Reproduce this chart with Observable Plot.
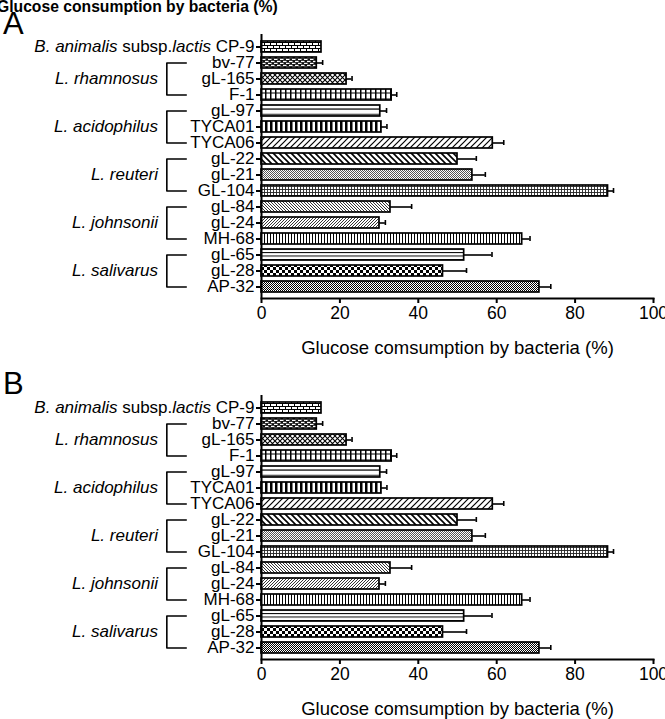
<!DOCTYPE html>
<html><head><meta charset="utf-8">
<script src="https://cdn.jsdelivr.net/npm/d3@7"></script>
<script src="https://cdn.jsdelivr.net/npm/@observablehq/plot@0.6"></script>
<style>
body{margin:0;overflow:hidden;background:#fff;font-family:"Liberation Sans",Arial,sans-serif;color:#000;}
.panel{position:absolute;left:0;width:665px;height:362px;}
.letter{position:absolute;left:3px;font-size:31px;line-height:30px;}
.title{position:absolute;left:-3px;top:-1px;font-size:15.7px;font-weight:bold;white-space:nowrap;line-height:16px;}
</style></head><body>
<svg width="0" height="0" style="position:absolute"><defs id="pats"></defs></svg>
<div class="panel" id="A" style="top:0"></div>
<div class="panel" id="B" style="top:361px"></div>
<div class="title">Glucose consumption by bacteria (%)</div>
<div class="letter" style="top:9px">A</div>
<div class="letter" style="top:369px">B</div>
<script>
// ---- data ----
const strains = ["CP-9","bv-77","gL-165","F-1","gL-97","TYCA01","TYCA06","gL-22","gL-21","GL-104","gL-84","gL-24","MH-68","gL-65","gL-28","AP-32"];
const consumption = [15.3,14.1,21.7,33.2,30.3,30.6,59.0,50.0,53.8,88.4,32.9,30.1,66.5,51.7,46.3,70.9];
const errors = [0,1.5,1.4,1.3,1.6,1.4,2.8,4.8,3.3,1.4,5.4,1.5,2.0,7.1,6.0,2.9];
const groupNames = ["L. rhamnosus","L. acidophilus","L. reuteri","L. johnsonii","L. salivarus"];
const groupFirst = ["bv-77","gL-97","gL-22","gL-84","gL-65"];
const groupMiddle = ["gL-165","TYCA01","gL-21","gL-24","gL-28"];
const groupLast = ["F-1","TYCA06","GL-104","MH-68","AP-32"];
const xTicks = [0,20,40,60,80,100];
const firstPrefix = ["B. animalis", " subsp.", "lactis"];
const xLabel = "Glucose comsumption by bacteria (%)";

// ---- styles (patterns) ----
const patternIds = ["brick","brickDark","diamond","gridWide","hlineWide","vstripe","diagUp","diagDown","stippleLight","gridFine","diagDownFine","diagUpFine","vlineFine","hlineFine","checker","stippleDark"];
const P = (id,w,h,body,bg="#fff") => `<pattern id="${id}" patternUnits="userSpaceOnUse" width="${w}" height="${h}"><rect width="${w}" height="${h}" fill="${bg}"/>${body}</pattern>`;
document.getElementById("pats").innerHTML = [
  P("brick",6,6,`<path d="M0,0.5H6M0,3.5H6M0.5,0V3M3.5,3V6" stroke="#000" stroke-width="1"/>`),
  P("brickDark",6,4,`<rect x="1" y="0.8" width="3.5" height="1.3" fill="#fff"/><rect x="4" y="2.8" width="3.5" height="1.3" fill="#fff"/><rect x="-2" y="2.8" width="3.5" height="1.3" fill="#fff"/>`,"#111"),
  P("diamond",5,5,`<path d="M0,0L5,5M5,0L0,5" stroke="#000" stroke-width="1.05"/>`),
  P("gridWide",5,6,`<path d="M0.75,0V6" stroke="#000" stroke-width="1.5"/><path d="M0,3H5" stroke="#000" stroke-width="1"/>`),
  P("hlineWide",4,5.5,`<rect y="4" width="4" height="1.2" fill="#000"/>`),
  P("vstripe",5,5,`<rect width="2.5" height="5" fill="#000"/>`),
  P("diagUp",6,6,`<path d="M0,6L6,0M-1,1L1,-1M5,7L7,5" stroke="#000" stroke-width="1.2"/>`),
  P("diagDown",6,6,`<path d="M0,0L6,6M-1,5L1,7M5,-1L7,1" stroke="#000" stroke-width="1.6"/>`),
  P("stippleLight",2,2,`<rect width="1" height="1" fill="#555"/><rect x="1" y="1" width="1" height="1" fill="#555"/>`),
  P("gridFine",3,3,`<path d="M0.5,0V3M0,0.5H3" stroke="#222" stroke-width="0.9"/>`),
  P("diagDownFine",3,3,`<path d="M0,0L3,3M-1,2L1,4M2,-1L4,1" stroke="#000" stroke-width="0.8"/>`),
  P("diagUpFine",3,3,`<path d="M0,3L3,0M-1,1L1,-1M2,4L4,2" stroke="#000" stroke-width="0.8"/>`),
  P("vlineFine",3,3,`<rect width="1" height="3" fill="#000"/>`),
  P("hlineFine",4,3.5,`<rect width="4" height="1" fill="#000"/>`),
  P("checker",6,6,`<rect width="3" height="3" fill="#000"/><rect x="3" y="3" width="3" height="3" fill="#000"/>`),
  P("stippleDark",2,2,`<rect width="1" height="1" fill="#000"/><rect x="1" y="1" width="1" height="1" fill="#000"/>`)
].join("");

// ---- tables built from the arrays ----
const data = strains.map((s,i)=>({strain:s, value:consumption[i], err:errors[i], fill:`url(#${patternIds[i]})`}));
const withErr = data.filter(d=>d.err>0);
const bracketArm = -19.2, bracketSpine = -24.15, groupTextX = -26.4;
const brackets = [];
groupNames.forEach((g,i)=>{
  brackets.push({g, x:bracketArm, y:groupFirst[i]},{g, x:bracketSpine, y:groupFirst[i]},{g, x:bracketSpine, y:groupLast[i]},{g, x:bracketArm, y:groupLast[i]});
});
const groupLabels = groupNames.map((g,i)=>({g, y:groupMiddle[i]}));
const firstLabel = firstPrefix.join("") + " " + strains[0];

function makePanel(){
  const chart = Plot.plot({
    width:665, height:362, marginLeft:261, marginRight:12, marginTop:34, marginBottom:64,
    style:{fontFamily:"'Liberation Sans', Arial, sans-serif", fontSize:"17px", color:"#000", background:"transparent", overflow:"visible"},
    x:{domain:[0,100]},
    y:{domain:strains, paddingInner:0.33, paddingOuter:0.2},
    color:{type:"identity"},
    marks:[
      Plot.barX(data,{y:"strain", x:"value", fill:"fill", stroke:"#000", strokeWidth:1.7}),
      Plot.ruleY(withErr,{y:"strain", x1:"value", x2:d=>d.value+d.err, stroke:"#000", strokeWidth:1.6}),
      Plot.tickX(withErr,{y:"strain", x:d=>d.value+d.err, stroke:"#000", strokeWidth:1.6, insetTop:3, insetBottom:3}),
      Plot.ruleX([0],{stroke:"#000", strokeWidth:2}),
      Plot.frame({anchor:"bottom", stroke:"#000", strokeWidth:2}),
      Plot.axisX({ticks:xTicks, tickSize:5, tickPadding:3, strokeWidth:2, label:null, fontSize:17.5}),
      Plot.text([xLabel],{frameAnchor:"bottom", dy:55, text:d=>d, fontSize:18.5}),
      Plot.axisY({tickSize:5, tickPadding:2, strokeWidth:2, label:null, fontSize:17, tickFormat:d => d===strains[0] ? firstLabel : d}),
      Plot.line(brackets,{x:"x", y:"y", z:"g", stroke:"#000", strokeWidth:1.6}),
      Plot.text(groupLabels,{x:groupTextX, y:"y", text:"g", textAnchor:"end", fontStyle:"italic", fontSize:17})
    ]
  });
  d3.select(chart).selectAll("text").each(function(){
    if (this.textContent === firstLabel) {
      const t = d3.select(this); t.text(null);
      t.append("tspan").attr("font-style","italic").text(firstPrefix[0]);
      t.append("tspan").text(firstPrefix[1]);
      t.append("tspan").attr("font-style","italic").text(firstPrefix[2]);
      t.append("tspan").text(" " + strains[0]);
    }
  });
  return chart;
}
document.getElementById("A").append(makePanel());
document.getElementById("B").append(makePanel());
</script>
</body></html>
